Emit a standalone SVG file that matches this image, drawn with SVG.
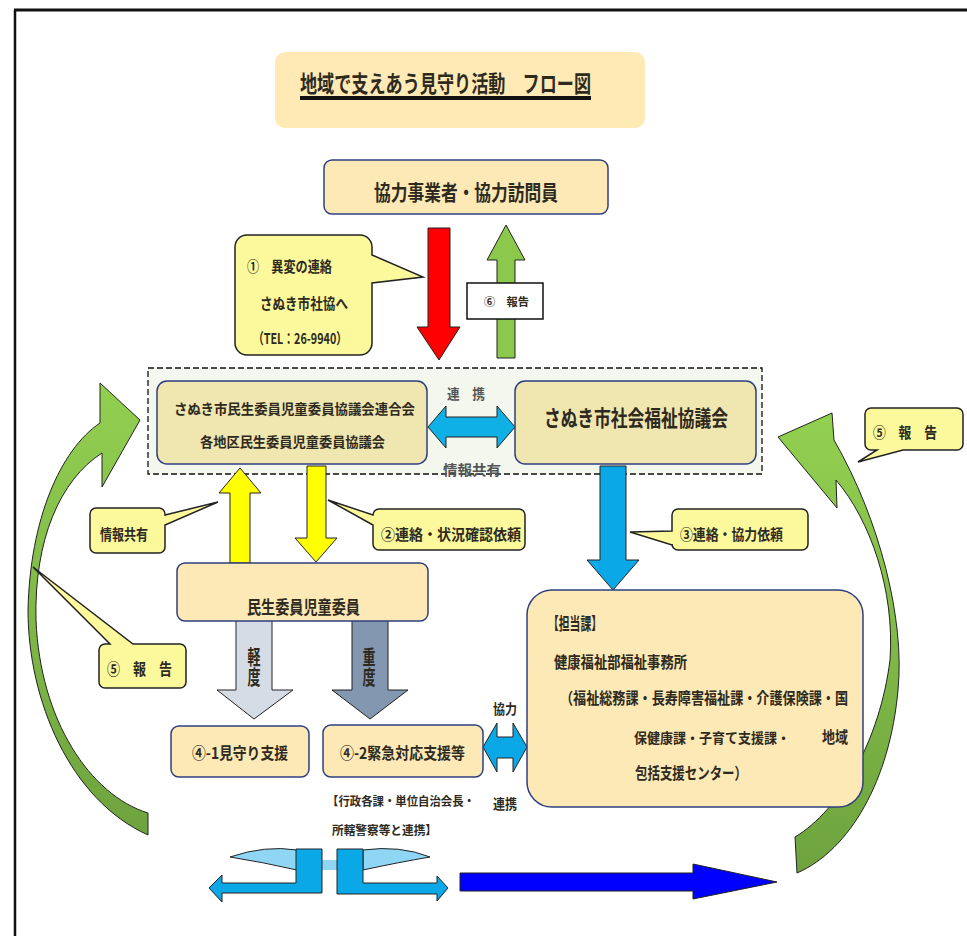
<svg xmlns="http://www.w3.org/2000/svg" width="967" height="936" viewBox="0 0 967 936">
<defs>
<style>
.t{font-family:"Noto Sans CJK JP","Noto Sans CJK SC",sans-serif;font-weight:700;fill:#2e2a20}
.g{fill:#555}
.v{writing-mode:vertical-rl}
.node{fill:#fde9b6;stroke:#2e3f80;stroke-width:1.5}
.node2{fill:#f0e6b0;stroke:#2e3f80;stroke-width:1.5}
.call{fill:#fbf99c;stroke:#222;stroke-width:1.5}
.arr{stroke:#222;stroke-width:1}
</style>
<linearGradient id="grn" x1="0" y1="0" x2="0" y2="1">
<stop offset="0" stop-color="#92d050"/>
<stop offset="1" stop-color="#6ea33e"/>
</linearGradient>
</defs>
<rect width="967" height="936" fill="#fff"/>
<g id="frame">
<line x1="14" y1="10" x2="967" y2="10" stroke="#111" stroke-width="3"/>
<line x1="15" y1="10" x2="15" y2="936" stroke="#111" stroke-width="2.5"/>
</g>
<g id="title">
<rect x="275" y="52" width="370" height="76" rx="10" fill="#ffeab5"/>
<text class="t" x="300" y="92" font-size="23" textLength="291" lengthAdjust="spacingAndGlyphs">地域で支えあう見守り活動　フロー図</text>
<rect x="300" y="96" width="291" height="4" fill="#111"/>
</g>
<g id="group-box">
<rect x="148" y="368" width="614" height="106" fill="#f3f7ee" stroke="#111" stroke-width="1.3" stroke-dasharray="6,3"/>
</g>
<g id="connectors">
<path d="M100,423 C60,450 30,520 28,610 C28,700 70,800 148,835 L148,813 C90,795 40,720 36,620 C34,540 60,480 102,453 L102,487 L140,420 L100,383 Z" fill="url(#grn)" class="arr"/>
<path d="M834,440 C880,520 905,620 898,690 C890,780 850,850 797,873 L795,837 C840,810 880,740 890,660 C895,590 870,520 836,480 L837,508 L778,437 L832,413 Z" fill="url(#grn)" class="arr"/>
<polygon points="428,228 450,228 450,327 460,327 439,360 417,327 428,327" fill="#ff0000" class="arr"/>
<polygon points="497,358 515,358 515,260 525,260 506,225 487,260 497,260" fill="#8cc84b" class="arr"/>
<polygon points="428,427 446,406 446,417 497,417 497,406 515,427 497,448 497,437 446,437 446,448" fill="#0fb0e6" class="arr"/>
<polygon points="230,563 250,563 250,493 261,493 240,468 219,493 230,493" fill="#ffff00" class="arr"/>
<polygon points="307,466 326,466 326,538 337,538 316,562 295,538 307,538" fill="#ffff00" class="arr"/>
<polygon points="600,466 626,466 626,560 639,560 613,590 587,560 600,560" fill="#0aa8e6" class="arr"/>
<polygon points="236,620 272,620 272,690 293,690 254,719 217,690 236,690" fill="#d6dce6" class="arr"/>
<polygon points="352,620 388,620 388,690 408,690 370,719 332,690 352,690" fill="#8497b0" class="arr"/>
<polygon points="483,747 497,723 497,737 513,737 513,723 527,747 513,772 513,758 497,758 497,772" fill="#0aa8e6" class="arr"/>
<path d="M230,857 Q265,845 297,850 L297,870 Q262,862 230,857 Z" fill="#8fd6f5" class="arr"/>
<path d="M363,850 Q400,845 430,857 Q400,862 363,870 Z" fill="#8fd6f5" class="arr"/>
<rect x="322" y="860" width="15" height="10" fill="#8fd6f5"/>
<polygon points="296,849 322,849 322,893 222,893 222,902 209,888 222,875 222,883 296,883" fill="#0aa8e6" class="arr"/>
<polygon points="337,849 363,849 363,883 437,883 437,876 448,888 437,901 437,894 337,894" fill="#0aa8e6" class="arr"/>
<polygon points="460,873 693,873 693,864 777,882 693,899 693,891 460,891" fill="#0000ff" class="arr"/>
</g>
<g id="node-kyoryoku">
<rect class="node" x="324" y="160" width="284" height="54" rx="8"/>
<text class="t" x="374" y="200" font-size="21" textLength="184" lengthAdjust="spacingAndGlyphs">協力事業者・協力訪問員</text>
</g>
<g id="note-report6">
<rect x="467" y="283" width="76" height="36" fill="#fff" stroke="#111" stroke-width="1.5"/>
<text class="t" x="484" y="306" font-size="11" textLength="45" lengthAdjust="spacingAndGlyphs">⑥　報告</text>
</g>
<g id="callout-1">
<path class="call" d="M247,235 H360 A12,12 0 0 1 372,247 V255 L423,277 L372,283 V343 A12,12 0 0 1 360,355 H247 A12,12 0 0 1 235,343 V247 A12,12 0 0 1 247,235 Z"/>
<text class="t" x="247" y="272" font-size="15" textLength="85" lengthAdjust="spacingAndGlyphs">①　異変の連絡</text>
<text class="t" x="260" y="309" font-size="15" textLength="88" lengthAdjust="spacingAndGlyphs">さぬき市社協へ</text>
<text class="t" x="253" y="344" font-size="15" textLength="94" lengthAdjust="spacingAndGlyphs">（TEL：26-9940）</text>
</g>
<g id="node-minsei-kyogikai">
<rect class="node2" x="157" y="381" width="270" height="83" rx="10"/>
<text class="t" x="174" y="414" font-size="14" textLength="241" lengthAdjust="spacingAndGlyphs">さぬき市民生委員児童委員協議会連合会</text>
<text class="t" x="200" y="447" font-size="14" textLength="185" lengthAdjust="spacingAndGlyphs">各地区民生委員児童委員協議会</text>
</g>
<g id="node-shakyo">
<rect class="node2" x="515" y="381" width="241" height="83" rx="10"/>
<text class="t" x="544" y="426" font-size="22" textLength="184" lengthAdjust="spacingAndGlyphs">さぬき市社会福祉協議会</text>
</g>
<g id="labels-renkei">
<text class="t g" x="447" y="399" font-size="14" textLength="38" lengthAdjust="spacingAndGlyphs">連　携</text>
<text class="t g" x="443" y="475" font-size="14" textLength="58" lengthAdjust="spacingAndGlyphs">情報共有</text>
</g>
<g id="callout-info">
<path class="call" d="M96,508 H159 A6,6 0 0 1 165,514 V515 L218,502 L165,525 V547 A6,6 0 0 1 159,553 H96 A6,6 0 0 1 90,547 V514 A6,6 0 0 1 96,508 Z"/>
<text class="t" x="100" y="540" font-size="15" textLength="48" lengthAdjust="spacingAndGlyphs">情報共有</text>
</g>
<g id="callout-2">
<path class="call" d="M379,509 H519 A6,6 0 0 1 525,515 V544 A6,6 0 0 1 519,550 H379 A6,6 0 0 1 373,544 V525 L328,500 L373,515 A6,6 0 0 1 379,509 Z"/>
<text class="t" x="381" y="540" font-size="15" textLength="140" lengthAdjust="spacingAndGlyphs">②連絡・状況確認依頼</text>
</g>
<g id="callout-3">
<path class="call" d="M678,509 H802 A6,6 0 0 1 808,515 V544 A6,6 0 0 1 802,550 H678 A6,6 0 0 1 672,544 V545 L630,532 L672,531 V515 A6,6 0 0 1 678,509 Z"/>
<text class="t" x="680" y="540" font-size="15" textLength="103" lengthAdjust="spacingAndGlyphs">③連絡・協力依頼</text>
</g>
<g id="callout-5-left">
<path class="call" d="M105,644 H110 L33,567 L133,644 H180 A6,6 0 0 1 186,650 V682 A6,6 0 0 1 180,688 H105 A6,6 0 0 1 99,682 V650 A6,6 0 0 1 105,644 Z"/>
<text class="t" x="107" y="675" font-size="16" textLength="65" lengthAdjust="spacingAndGlyphs">⑤　報　告</text>
</g>
<g id="callout-5-right">
<path class="call" d="M871,408 H957 A6,6 0 0 1 963,414 V444 A6,6 0 0 1 957,450 H903 L858,462 L877,450 H871 A6,6 0 0 1 865,444 V414 A6,6 0 0 1 871,408 Z"/>
<text class="t" x="873" y="438" font-size="15" textLength="64" lengthAdjust="spacingAndGlyphs">⑤　報　告</text>
</g>
<g id="node-minsei">
<rect class="node" x="177" y="563" width="251" height="58" rx="8"/>
<text class="t" x="247" y="614" font-size="18" textLength="113" lengthAdjust="spacingAndGlyphs">民生委員児童委員</text>
</g>
<g id="labels-degree">
<text class="t v" x="254" y="647" font-size="13" textLength="40" lengthAdjust="spacingAndGlyphs">軽度</text>
<text class="t v" x="369" y="647" font-size="13" textLength="40" lengthAdjust="spacingAndGlyphs">重度</text>
</g>
<g id="node-mimamori">
<rect class="node" x="171" y="726" width="138" height="51" rx="8"/>
<text class="t" x="192" y="759" font-size="16" textLength="96" lengthAdjust="spacingAndGlyphs">④-1見守り支援</text>
</g>
<g id="node-kinkyu">
<rect class="node" x="323" y="725" width="160" height="52" rx="8"/>
<text class="t" x="340" y="759" font-size="16" textLength="125" lengthAdjust="spacingAndGlyphs">④-2緊急対応支援等</text>
<text class="t" x="327" y="806" font-size="12" textLength="148" lengthAdjust="spacingAndGlyphs">【行政各課・単位自治会長・</text>
<text class="t" x="332" y="835" font-size="12" textLength="105" lengthAdjust="spacingAndGlyphs">所轄警察等と連携】</text>
</g>
<g id="labels-kyoryoku">
<text class="t" x="493" y="714" font-size="14" textLength="24" lengthAdjust="spacingAndGlyphs">協力</text>
<text class="t" x="493" y="809" font-size="14" textLength="24" lengthAdjust="spacingAndGlyphs">連携</text>
</g>
<g id="node-tantoka">
<rect class="node" x="527" y="590" width="336" height="217" rx="25"/>
<text class="t" x="548" y="630" font-size="17" textLength="54" lengthAdjust="spacingAndGlyphs">【担当課】</text>
<text class="t" x="554" y="668" font-size="16" textLength="133" lengthAdjust="spacingAndGlyphs">健康福祉部福祉事務所</text>
<text class="t" x="560" y="704" font-size="16" textLength="288" lengthAdjust="spacingAndGlyphs">（福祉総務課・長寿障害福祉課・介護保険課・国</text>
<text class="t" x="634" y="743" font-size="14" textLength="156" lengthAdjust="spacingAndGlyphs">保健康課・子育て支援課・</text>
<text class="t" x="822" y="743" font-size="16" textLength="26" lengthAdjust="spacingAndGlyphs">地域</text>
<text class="t" x="635" y="779" font-size="16" textLength="112" lengthAdjust="spacingAndGlyphs">包括支援センター）</text>
</g>
</svg>
